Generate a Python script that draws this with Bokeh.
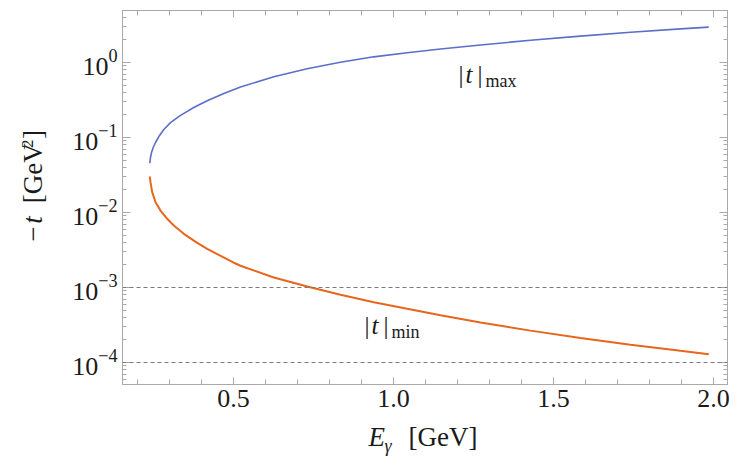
import math
from bokeh.plotting import figure
from bokeh.layouts import column, row
from bokeh.models import (Span, Label, LinearAxis, LogAxis, SingleIntervalTicker,
                          LogTicker, CustomJSTickFormatter, PrintfTickFormatter,
                          ColumnDataSource, Range1d)
from bokeh.embed import file_html
from bokeh.resources import INLINE

# ---------------- data ----------------
E_max = [0.2384, 0.2406, 0.2438, 0.2491, 0.2563, 0.2666, 0.2822, 0.3031, 0.3344, 0.3759,
         0.4178, 0.4697, 0.5219, 0.626, 0.730, 0.834, 0.938, 1.043, 1.147, 1.272,
         1.428, 1.584, 1.741, 1.897, 1.985]
t_max = [0.0454, 0.0541, 0.0631, 0.0736, 0.0858, 0.103, 0.128, 0.158, 0.197, 0.251,
         0.309, 0.387, 0.472, 0.645, 0.824, 1.01, 1.19, 1.35, 1.51, 1.71,
         1.98, 2.25, 2.53, 2.81, 2.96]

E_min = [0.2384, 0.2406, 0.2459, 0.2563, 0.2719, 0.2928, 0.3134, 0.3447, 0.3866, 0.4178,
         0.5009, 0.5219, 0.6259, 0.7303, 0.8344, 0.9384, 1.0428, 1.1469, 1.2719, 1.4281,
         1.5844, 1.7406, 1.8969, 1.9853]
t_min = [0.0302, 0.0254, 0.01866, 0.01371, 0.01063, 0.00824, 0.00671, 0.0052, 0.00394, 0.00327,
         0.00214, 0.00195, 0.00136, 0.00103, 0.000800, 0.000637, 0.000520, 0.000427, 0.000342, 0.000266,
         0.000212, 0.000173, 0.000143, 0.000129]

reference_levels = [1e-3, 1e-4]

# ---------------- layout ----------------
W, H = 741, 469
YT_W = 50                 # strip holding the y-axis title
L, R, T, B = 72, 14, 10, 35
FW, FH = W - YT_W - L - R, 374
MAIN_W, MAIN_H = W - YT_W, T + FH + B
XT_H = H - MAIN_H         # strip holding the x-axis title
FRAME_L = YT_W + L        # frame left edge in page pixels
FRAME_T = T
X0, X1 = 0.1531, 2.0438
LOG_TOP, LOG_BOT = 0.6933, -4.2933
MID = 0.34                # baseline -> em-box middle, as a fraction of the font size

def fx(px):
    return X0 + (px - FRAME_L) / FW * (X1 - X0)

def fy(py):
    return 10 ** (LOG_TOP - (py - FRAME_T) / FH * (LOG_TOP - LOG_BOT))

SERIF = "Liberation Serif"
INK = "#1a1a1a"
FRAME = "#a9a9a9"
BLUE = "#5b6fc9"
ORANGE = "#e8661c"

p = figure(width=MAIN_W, height=MAIN_H, x_range=(X0, X1), y_range=(10 ** LOG_BOT, 10 ** LOG_TOP),
           y_axis_type="log", output_backend="svg", toolbar_location=None,
           min_border_left=L, min_border_right=R, min_border_top=T, min_border_bottom=B,
           background_fill_color="white", border_fill_color="white")
p.grid.visible = False
p.outline_line_color = FRAME
p.outline_line_width = 1

p.xaxis.ticker = SingleIntervalTicker(interval=0.5, num_minor_ticks=5)
p.xaxis.formatter = PrintfTickFormatter(format="%.1f")
empty = CustomJSTickFormatter(code="return ''")

def style_axis(ax, major_in, minor_in):
    ax.axis_line_color = FRAME
    ax.major_tick_line_color = FRAME
    ax.minor_tick_line_color = FRAME
    ax.major_tick_in = major_in
    ax.major_tick_out = 0
    ax.minor_tick_in = minor_in
    ax.minor_tick_out = 0
    ax.major_label_text_font = SERIF
    ax.major_label_text_font_size = "26px"
    ax.major_label_text_color = INK

style_axis(p.xaxis[0], 7, 5)
p.xaxis[0].major_label_standoff = 5
style_axis(p.yaxis[0], 8, 4)
p.yaxis[0].major_label_standoff = 5

top = LinearAxis(ticker=SingleIntervalTicker(interval=0.5, num_minor_ticks=5), formatter=empty)
style_axis(top, 7, 5)
top.major_label_standoff = 0
p.add_layout(top, "above")
right = LogAxis(ticker=LogTicker(num_minor_ticks=10), formatter=empty)
style_axis(right, 8, 4)
right.major_label_standoff = 0
p.add_layout(right, "right")

for lv in reference_levels:
    p.add_layout(Span(location=lv, dimension="width", line_color="#7a7a7a",
                      line_width=1.2, line_dash="4 3"))

src_max = ColumnDataSource(dict(E=E_max, t=t_max))
src_min = ColumnDataSource(dict(E=E_min, t=t_min))
p.line("E", "t", source=src_max, line_color=BLUE, line_width=1.6)
p.line("E", "t", source=src_min, line_color=ORANGE, line_width=2.0)

def piece(fig, text, x, y, size, style="normal", angle=0.0):
    fig.add_layout(Label(x=x, y=y, text=text, text_font=SERIF,
                         text_font_size=f"{size}px", text_font_style=style,
                         text_color=INK, text_align="left", text_baseline="middle",
                         angle=angle))

# curve labels (inside the frame); py values are baselines in page pixels
for txt, px, py, sz, st in [("|", 458, 82, 25, "normal"), ("t", 465, 82, 25, "italic"),
                            ("|", 477, 82, 25, "normal"), ("max", 485, 87, 18, "normal"),
                            ("|", 364, 333, 25, "normal"), ("t", 371, 333, 25, "italic"),
                            ("|", 383, 333, 25, "normal"), ("min", 391, 338, 18, "normal")]:
    piece(p, txt, fx(px), fy(py - MID * sz), sz, st)

# ---- y-axis title strip (page pixel coordinates) ----
ytf = figure(width=YT_W, height=MAIN_H, x_range=Range1d(0, YT_W), y_range=Range1d(MAIN_H, 0),
             output_backend="svg", toolbar_location=None, min_border=0,
             x_axis_location=None, y_axis_location=None, outline_line_color=None,
             background_fill_color="white", border_fill_color="white")
ytf.grid.visible = False
A = math.pi / 2
for txt, bx, py, sz, st in [("−", 42, 259, 27, "normal"), ("t", 42, 239, 27, "italic"),
                            ("[GeV", 42, 216, 27, "normal"), ("2", 33, 154, 17, "normal"),
                            ("]", 42, 144, 27, "normal")]:
    piece(ytf, txt, bx - MID * sz, py, sz, st, angle=A)

# ---- x-axis title strip (page pixel coordinates) ----
xtf = figure(width=W, height=XT_H, x_range=Range1d(0, W), y_range=Range1d(H, MAIN_H),
             output_backend="svg", toolbar_location=None, min_border=0,
             x_axis_location=None, y_axis_location=None, outline_line_color=None,
             background_fill_color="white", border_fill_color="white")
xtf.grid.visible = False
for txt, px, py, sz, st in [("E", 368, 446, 27, "italic"), ("γ", 384, 452, 18, "italic"),
                            ("[GeV]", 408, 446, 27, "normal")]:
    piece(xtf, txt, px, py - MID * sz, sz, st)

layout = column(row(ytf, p, spacing=0), xtf, spacing=0)
open("out.html", "w").write(file_html(layout, INLINE))
